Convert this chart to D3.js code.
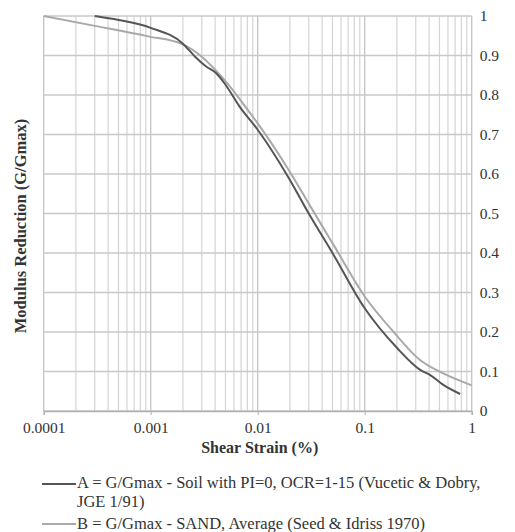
<!DOCTYPE html>
<html>
<head>
<meta charset="utf-8">
<script src="https://cdn.jsdelivr.net/npm/d3@7"></script>
<style>
  html, body { margin: 0; padding: 0; background: #fff; }
  svg { display: block; }
  svg text { font-family: "Liberation Serif", "Times New Roman", serif !important; }
</style>
</head>
<body>
<svg id="chart" width="515" height="532"></svg>
<script>
// ---- data ----
const strainA = [0.0003, 0.0005, 0.001, 0.002, 0.0026, 0.0033, 0.0041, 0.005, 0.0068, 0.01, 0.02, 0.03, 0.05, 0.1, 0.2, 0.33, 0.41, 0.543, 0.78];
const gA      = [1.0,    0.99,   0.97,  0.93,  0.897,  0.872,  0.855,  0.826, 0.77,   0.712, 0.585, 0.50, 0.40, 0.26, 0.16, 0.104, 0.091, 0.066, 0.043];
const strainB = [0.0001, 0.0003, 0.00092, 0.002, 0.003, 0.005, 0.0085, 0.01, 0.02, 0.03, 0.05, 0.1, 0.185, 0.329, 0.543, 1.0];
const gB      = [1.0,    0.975,  0.949,   0.928, 0.897, 0.835, 0.754,  0.728, 0.605, 0.525, 0.425, 0.29, 0.201, 0.129, 0.095, 0.065];
const xTicks = [0.0001, 0.001, 0.01, 0.1, 1];
const xTickLabels = ["0.0001", "0.001", "0.01", "0.1", "1"];
const yTicks = [0, 0.1, 0.2, 0.3, 0.4, 0.5, 0.6, 0.7, 0.8, 0.9, 1];
const yTickLabels = ["0", "0.1", "0.2", "0.3", "0.4", "0.5", "0.6", "0.7", "0.8", "0.9", "1"];
const legendA = ["A = G/Gmax - Soil with PI=0, OCR=1-15 (Vucetic & Dobry,", "JGE 1/91)"];
const legendB = ["B = G/Gmax - SAND, Average (Seed & Idriss 1970)"];

// ---- layout ----
const L = 43.7, R = 471.7, T = 16, B = 411;
const svg = d3.select("#chart");
const x = d3.scaleLog().domain([0.0001, 1]).range([L, R]);
const y = d3.scaleLinear().domain([0, 1]).range([B, T]);

// minor vertical grid
const minor = [];
for (let e = -4; e < 0; e++) for (let m = 2; m <= 9; m++) minor.push(m * Math.pow(10, e));
svg.append("g").selectAll("line").data(minor).join("line")
  .attr("x1", d => x(d)).attr("x2", d => x(d)).attr("y1", T).attr("y2", B)
  .attr("stroke", "#d4d4d4").attr("stroke-width", 1.2);
// major vertical grid
svg.append("g").selectAll("line").data(xTicks).join("line")
  .attr("x1", d => x(d)).attr("x2", d => x(d)).attr("y1", T).attr("y2", B)
  .attr("stroke", "#c4c4c4").attr("stroke-width", 1.3);
// horizontal grid
svg.append("g").selectAll("line").data(yTicks).join("line")
  .attr("x1", L).attr("x2", R).attr("y1", d => y(d)).attr("y2", d => y(d))
  .attr("stroke", "#c8c8c8").attr("stroke-width", 1.3);

// x axis
const xAxis = d3.axisBottom(x).tickValues(xTicks).tickFormat((d, i) => xTickLabels[i]).tickSize(4).tickPadding(7);
const gx = svg.append("g").attr("transform", `translate(0,${B})`).call(xAxis);
gx.attr("font-family", null).attr("font-size", null);
gx.select(".domain").attr("stroke", "#b0b0b0").attr("stroke-width", 1.3);
gx.selectAll(".tick line").attr("stroke", "#b0b0b0");
gx.selectAll("text").attr("font-size", 15.5).attr("fill", "#333");

// y axis on right
const yAxis = d3.axisRight(y).tickValues(yTicks).tickFormat((d, i) => yTickLabels[i]).tickSize(0).tickPadding(8);
const gy = svg.append("g").attr("transform", `translate(${R},0)`).call(yAxis);
gy.attr("font-family", null).attr("font-size", null);
gy.select(".domain").remove();
gy.selectAll("text").attr("font-size", 15.5).attr("fill", "#333");

// lines
const line = d3.line().x(d => x(d[0])).y(d => y(d[1])).curve(d3.curveMonotoneX);
svg.append("path").datum(strainB.map((s, i) => [s, gB[i]]))
  .attr("d", line).attr("fill", "none").attr("stroke", "#a9a9a9").attr("stroke-width", 2);
svg.append("path").datum(strainA.map((s, i) => [s, gA[i]]))
  .attr("d", line).attr("fill", "none").attr("stroke", "#555").attr("stroke-width", 2);

// axis titles
svg.append("text").attr("x", (L + R) / 2 + 2).attr("y", 453).attr("text-anchor", "middle")
  .attr("font-size", 16).attr("font-weight", "bold").attr("fill", "#333").text("Shear Strain (%)");
svg.append("text").attr("transform", `translate(26,226) rotate(-90)`).attr("text-anchor", "middle")
  .attr("font-size", 16.5).attr("font-weight", "bold").attr("fill", "#333").text("Modulus Reduction (G/Gmax)");

// legend
const lg = svg.append("g");
lg.append("line").attr("x1", 42).attr("x2", 76).attr("y1", 484).attr("y2", 484).attr("stroke", "#555").attr("stroke-width", 2);
lg.append("text").attr("x", 77).attr("y", 488).attr("font-size", 16.5).attr("fill", "#333").text(legendA[0]);
lg.append("text").attr("x", 77).attr("y", 507).attr("font-size", 16.5).attr("fill", "#333").text(legendA[1]);
lg.append("line").attr("x1", 42).attr("x2", 76).attr("y1", 524).attr("y2", 524).attr("stroke", "#a9a9a9").attr("stroke-width", 2);
lg.append("text").attr("x", 77).attr("y", 529).attr("font-size", 16.5).attr("fill", "#333").text(legendB[0]);
</script>
</body>
</html>
